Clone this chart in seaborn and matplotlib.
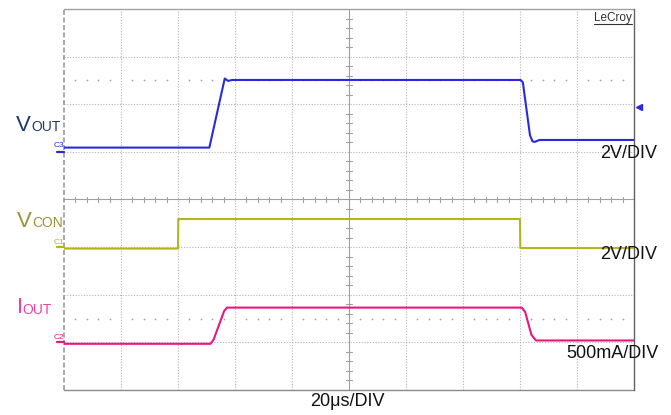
import matplotlib
matplotlib.use("Agg")
import matplotlib.pyplot as plt
import seaborn as sns
import pandas as pd
from matplotlib.lines import Line2D

# scope traces (time in us, values in V / A)
t_vout = [0, 51.0, 56.4, 57.6, 59.0, 160.2, 161.0, 163.5, 164.4, 165.2, 166.8, 200]
v_vout = [0.18, 0.18, 3.08, 2.98, 3.02, 3.02, 2.92, 0.70, 0.44, 0.42, 0.50, 0.50]

t_vcon = [0, 40.0, 40.1, 160.0, 160.1, 200]
v_vcon = [-0.06, -0.06, 1.18, 1.18, -0.04, -0.04]

t_iout = [0, 51.4, 52.5, 56.2, 57.2, 160.6, 161.8, 164.0, 165.6, 200]
v_iout = [-0.015, -0.015, 0.03, 0.33, 0.365, 0.365, 0.32, 0.08, 0.02, 0.02]

# channel settings: offset (div), scale per div
ch_offset = {"VOUT": 5.0, "VCON": 3.0, "IOUT": 1.0}
ch_scale = {"VOUT": 2.0, "VCON": 2.0, "IOUT": 0.5}
ch_color = {"VOUT": "#2a2adc", "VCON": "#b6b41c", "IOUT": "#e8177f"}

W, H = 671, 415
x0, x1, y0, y1 = 64, 634, 9, 390   # screen area in pixels

sns.set_style("white")
plt.rcParams["font.family"] = ["Liberation Sans", "DejaVu Sans"]

fig = plt.figure(figsize=(W / 100, H / 100), dpi=100)
ax = fig.add_axes([x0 / W, 1 - y1 / H, (x1 - x0) / W, (y1 - y0) / H])

def fx(px):
    return px / W

def fy(py):
    return 1 - py / H

# graticule
grid_c = "#b4b4b4"
for i in range(1, 10):
    if i != 5:
        ax.axvline(i * 20, color=grid_c, lw=0.8, ls=(0, (1, 1.5)), zorder=1)
for j in range(1, 8):
    if j != 4:
        ax.axhline(j, color=grid_c, lw=0.8, ls=(0, (1, 1.5)), zorder=1)
ax.axvline(100, color="#a0a0a0", lw=0.8, zorder=1)
ax.axhline(4, color="#a0a0a0", lw=0.8, zorder=1)
for k in range(1, 50):
    if k % 5:
        ax.plot([k * 4, k * 4], [3.94, 4.06], color="#a0a0a0", lw=0.8, zorder=1)
for k in range(1, 40):
    if k % 5:
        ax.plot([98.8, 101.2], [k * 0.2, k * 0.2], color="#a0a0a0", lw=0.8, zorder=1)
# cursor dot rows
for lvl in [6.5, 1.5]:
    xs = [k * 4 for k in range(1, 50) if k % 5]
    ax.scatter(xs, [lvl] * len(xs), s=1.5, color="#a0a0a0", zorder=1, linewidths=0)

# frame
ax.plot([0, 0], [0, 8], color="#9a9a9a", lw=1.2, ls=(0, (3, 1.5)), clip_on=False)
ax.plot([0, 200], [8, 8], color="#a0a0a0", lw=1.0, clip_on=False)
ax.plot([0, 200], [0, 0], color="#8a8a8a", lw=1.0, clip_on=False)
ax.plot([200, 200], [0, 8], color="#606060", lw=1.0, clip_on=False)

# traces
traces = [("VOUT", t_vout, v_vout), ("VCON", t_vcon, v_vcon), ("IOUT", t_iout, v_iout)]
for name, t, v in traces:
    df = pd.DataFrame({"t": t, "div": [ch_offset[name] + val / ch_scale[name] for val in v]})
    sns.lineplot(data=df, x="t", y="div", ax=ax, color=ch_color[name], lw=1.5,
                 estimator=None, sort=False, zorder=3)
    # ground marker on the left edge
    ax.plot([-2.6, 0], [ch_offset[name]] * 2, color=ch_color[name], lw=1.6, clip_on=False)
ax.set_xlim(0, 200)
ax.set_ylim(0, 8)
ax.axis("off")

# trigger level arrow
ax.plot([201.6], [5.95], marker="<", color=ch_color["VOUT"], ms=5, clip_on=False)

# channel tags
fig.text(fx(54), fy(147), "C3", fontsize=6, color=ch_color["VOUT"], va="baseline")
fig.text(fx(54), fy(243.5), "C1", fontsize=6, color=ch_color["VCON"], va="baseline")
fig.text(fx(54), fy(339), "C2", fontsize=6, color=ch_color["IOUT"], va="baseline")

# signal names
fig.text(fx(16), fy(130.5), "V", fontsize=16, color="#1f3a68", va="baseline")
fig.text(fx(31), fy(130.5), "OUT", fontsize=10, color="#1f3a68", va="baseline")
fig.text(fx(17), fy(226.5), "V", fontsize=16, color="#9a9238", va="baseline")
fig.text(fx(32.5), fy(226.5), "CON", fontsize=10, color="#9a9238", va="baseline")
fig.text(fx(17), fy(312.5), "I", fontsize=16, color="#f0429c", va="baseline")
fig.text(fx(22.5), fy(313.5), "OUT", fontsize=10, color="#f0429c", va="baseline")

# scale labels
fig.text(fx(600), fy(153), "2V/DIV", fontsize=13, color="#111111", va="center")
fig.text(fx(600), fy(254.5), "2V/DIV", fontsize=13, color="#111111", va="center")
fig.text(fx(566.5), fy(353.5), "500mA/DIV", fontsize=13, color="#111111", va="center")
fig.text(fx(347), fy(405.5), "20μs/DIV", fontsize=13, color="#111111", ha="center", va="baseline")

# brand
fig.text(fx(632), fy(21.5), "LeCroy", fontsize=8.5, color="#333333", ha="right", va="baseline")
fig.add_artist(Line2D([fx(594), fx(632)], [fy(24), fy(24)], color="#333333", lw=0.8))

fig.savefig("out.png", dpi=100)
